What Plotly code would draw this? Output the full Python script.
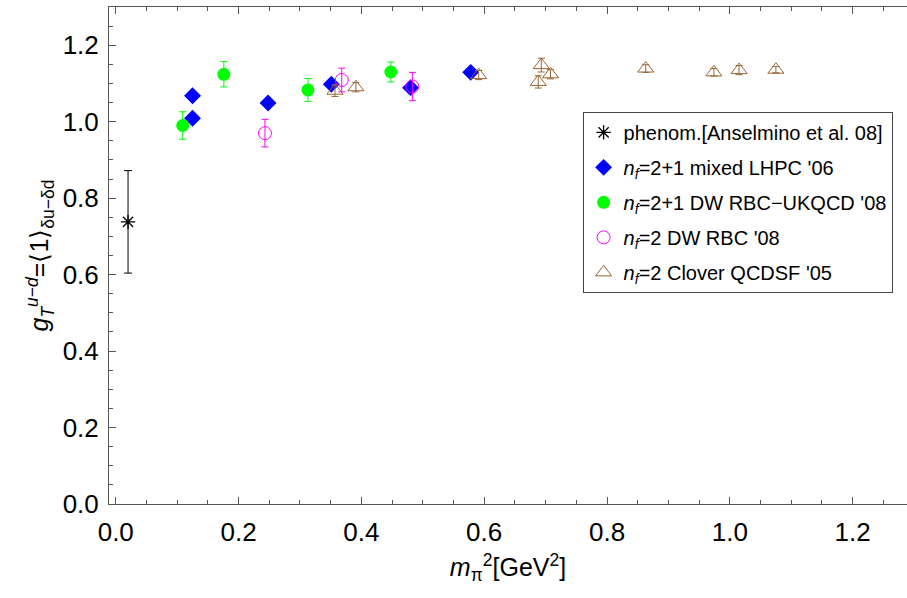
import plotly.graph_objects as go

# Phenomenological point
phen_x = [0.02]
phen_y = [0.738]
phen_err = [0.134]

# nf=2+1 mixed LHPC '06
lhpc_x = [0.125, 0.125, 0.248, 0.351, 0.480, 0.578]
lhpc_y = [1.068, 1.009, 1.049, 1.098, 1.089, 1.129]

# nf=2+1 DW RBC-UKQCD '08
rbcuk_x = [0.109, 0.176, 0.313, 0.448]
rbcuk_y = [0.990, 1.124, 1.083, 1.130]
rbcuk_err = [0.036, 0.033, 0.030, 0.026]

# nf=2 DW RBC '08
rbc_x = [0.243, 0.368, 0.483]
rbc_y = [0.970, 1.109, 1.092]
rbc_err = [0.036, 0.031, 0.037]

# nf=2 Clover QCDSF '05
qcdsf_x = [0.357, 0.391, 0.591, 0.693, 0.688, 0.708, 0.863, 0.974, 1.015, 1.075]
qcdsf_y = [1.081, 1.090, 1.122, 1.148, 1.104, 1.124, 1.139, 1.129, 1.135, 1.136]
qcdsf_err = [0.015, 0.012, 0.012, 0.018, 0.016, 0.012, 0.010, 0.010, 0.012, 0.008]

x_ticks = [0.0, 0.2, 0.4, 0.6, 0.8, 1.0, 1.2]
y_ticks = [0.0, 0.2, 0.4, 0.6, 0.8, 1.0, 1.2]

BLACK = "#000000"
BLUE = "#0000FF"
GREEN = "#00FF00"
MAGENTA = "#FF00FF"
BROWN = "rgb(153,102,51)"

fig = go.Figure()

fig.add_trace(go.Scatter(
    x=phen_x, y=phen_y, mode="markers",
    name="phenom.[Anselmino et al. 08]", legendgroup="a",
    marker=dict(symbol="asterisk-open", size=12, color=BLACK, line=dict(width=1.3, color=BLACK)),
    error_y=dict(type="data", array=phen_err, color=BLACK, thickness=1, width=4),
))
fig.add_trace(go.Scatter(
    x=lhpc_x, y=lhpc_y, mode="markers",
    name="<i>n</i><sub><i>f</i></sub>=2+1 mixed LHPC '06", legendgroup="b",
    marker=dict(symbol="diamond", size=13, color=BLUE),
))
fig.add_trace(go.Scatter(
    x=rbcuk_x, y=rbcuk_y, mode="markers",
    name="<i>n</i><sub><i>f</i></sub>=2+1 DW RBC\u2212UKQCD '08", legendgroup="c",
    marker=dict(symbol="circle", size=13, color=GREEN),
    error_y=dict(type="data", array=rbcuk_err, color=GREEN, thickness=1, width=3.5),
))
fig.add_trace(go.Scatter(
    x=rbc_x, y=rbc_y, mode="markers",
    name="<i>n</i><sub><i>f</i></sub>=2 DW RBC '08", legendgroup="d",
    marker=dict(symbol="circle-open", size=13, color=MAGENTA, line=dict(width=1, color=MAGENTA)),
    error_y=dict(type="data", array=rbc_err, color=MAGENTA, thickness=1, width=3.5),
))
fig.add_trace(go.Scatter(
    x=qcdsf_x, y=qcdsf_y, mode="markers",
    name="<i>n</i><sub><i>f</i></sub>=2 Clover QCDSF '05", legendgroup="e",
    marker=dict(symbol="triangle-up-open", size=14, color=BROWN, line=dict(width=1, color=BROWN)),
    error_y=dict(type="data", array=qcdsf_err, color=BROWN, thickness=1, width=3.5),
))

FONT = "Liberation Sans, Arial, Helvetica, sans-serif"
AX = "#555555"

fig.update_layout(
    width=907, height=598,
    margin=dict(l=109, r=0, t=7, b=94),
    paper_bgcolor="white", plot_bgcolor="white",
    font=dict(family=FONT, color="black", size=20),
    showlegend=True,
    legend=dict(
        x=0.5935, y=0.789, xanchor="left", yanchor="top",
        bgcolor="white", bordercolor="#444444", borderwidth=1,
        font=dict(family=FONT, size=20, color="black"),
        tracegroupgap=6, itemsizing="trace",
    ),
    xaxis=dict(
        range=[-0.011, 1.2885], tickvals=x_ticks,
        ticktext=[f"{v:.1f}" for v in x_ticks],
        ticks="inside", ticklen=7, tickcolor=AX, tickwidth=1,
        showline=True, linecolor=AX, linewidth=1, mirror="ticks",
        showgrid=False, zeroline=False,
        tickfont=dict(family=FONT, size=26, color="black"),
        ticklabelstandoff=5,
        minor=dict(dtick=0.05, tick0=0, ticks="inside", ticklen=4, tickcolor=AX, showgrid=False),
        title=dict(text="<i>m</i><sub>π</sub><sup>2</sup>[GeV<sup>2</sup>]",
                   font=dict(family=FONT, size=25, color="black"), standoff=12),
    ),
    yaxis=dict(
        range=[0, 1.3], tickvals=y_ticks,
        ticktext=[f"{v:.1f}" for v in y_ticks],
        ticks="inside", ticklen=7, tickcolor=AX, tickwidth=1,
        showline=True, linecolor=AX, linewidth=1, mirror=False,
        showgrid=False, zeroline=False,
        tickfont=dict(family=FONT, size=26, color="black"),
        ticklabelstandoff=4,
        minor=dict(dtick=0.05, tick0=0, ticks="inside", ticklen=4, tickcolor=AX, showgrid=False),
        title=dict(text="<i>g</i><sub><i>T</i></sub><sup><i>u</i>\u2212<i>d</i></sup>=\u27e81\u27e9<sub>δu\u2212δd</sub>",
                   font=dict(family=FONT, size=25, color="black"), standoff=6),
    ),
)

fig.write_html("out.html")
